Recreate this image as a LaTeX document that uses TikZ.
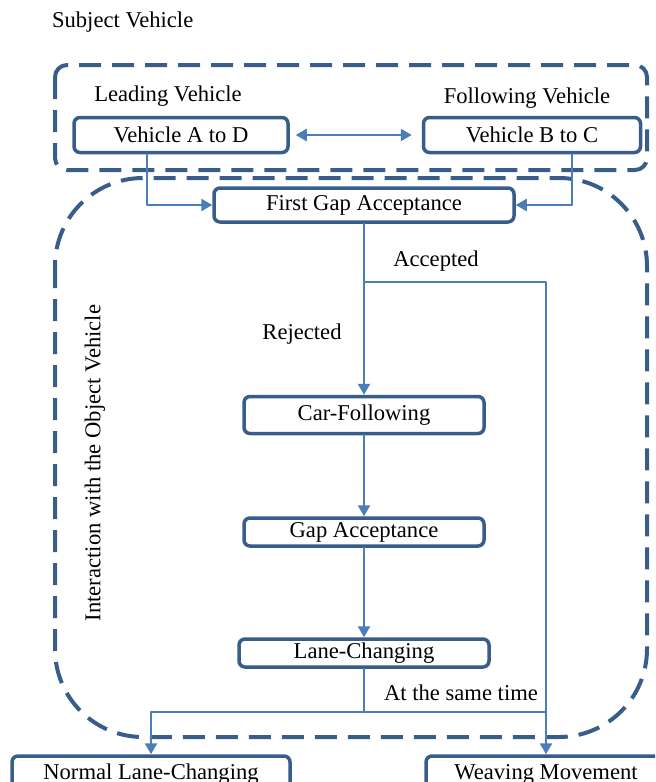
\documentclass[tikz,border=0pt]{standalone}
\usepackage{fontspec}
\setmainfont{Liberation Serif}
\usetikzlibrary{arrows.meta}
\definecolor{boxblue}{RGB}{56,93,138}
\definecolor{lineblue}{RGB}{74,126,187}
\begin{document}
\begin{tikzpicture}[x=0.5pt, y=-0.5pt, font=\fontsize{11.3}{13}\selectfont, line join=round, line cap=round, >={Triangle[length=5.5pt,width=6pt]},
	stage/.style={draw=boxblue, line width=1.75pt, rounded corners=3pt, fill=white, inner sep=0pt},
	flow/.style={draw=lineblue, line width=1.25pt},
	dashbox/.style={draw=boxblue, line width=2pt, line cap=butt, dash pattern=on 11pt off 5.5pt}]
	\def\xmax{655} \def\ymax{782} % Kích thước ảnh
	\useasboundingbox (0,0) rectangle (\xmax,\ymax);
	\clip (0,0) rectangle (\xmax,\ymax);
	\draw[dashbox, rounded corners=6pt] (55,65) rectangle (647,170);
	\draw[dashbox, rounded corners=44pt] (55,178) rectangle (647,737);
	\node[anchor=west] (subj) at (45,22) {Subject Vehicle};
	\node (lead) at (168,96) {Leading Vehicle};
	\node (foll) at (527,98) {Following Vehicle};
	\node[rotate=90] (inter) at (95,463) {Interaction with the Object Vehicle};
	\node[stage, minimum width=107pt, minimum height=17.5pt] (vad) at (181,135) {Vehicle A to D};
	\node[stage, minimum width=108.5pt, minimum height=17.5pt] (vbc) at (532,135) {Vehicle B to C};
	\node[stage, minimum width=150pt, minimum height=17pt] (fga) at (364,205) {First Gap Acceptance};
	\node[stage, minimum width=120pt, minimum height=18.5pt] (cf) at (364,415) {Car-Following};
	\node[stage, minimum width=120pt, minimum height=14pt] (ga) at (364,532) {Gap Acceptance};
	\node[stage, minimum width=125pt, minimum height=14pt] (lc) at (364,653) {Lane-Changing};
	\node[stage, minimum width=139pt, minimum height=18pt] (nlc) at (151,774) {Normal Lane-Changing};
	\node[stage, minimum width=120pt, minimum height=18pt] (wm) at (546,774) {Weaving Movement};
	\node (acc-lbl) at (436,261) {Accepted};
	\node (rej-lbl) at (302,334) {Rejected};
	\node (same-lbl) at (461,693) {At the same time};
	\coordinate (acc) at (364,282);
	\coordinate (split) at (364,712);
	\draw[flow,<->] ([xshift=3pt]vad.east) -- ([xshift=-5pt]vbc.west);
	\draw[flow,->] ([xshift=-17pt]vad.south) |- (fga.west);
	\draw[flow,->] ([xshift=20pt]vbc.south) |- (fga.east);
	\draw[flow,->] (fga) -- (cf);
	\draw[flow,->] (acc) -| (wm.north);
	\draw[flow,->] (cf) -- (ga);
	\draw[flow,->] (ga) -- (lc);
	\draw[flow] (lc.south) -- (split);
	\draw[flow,->] (split) -| (nlc.north);
	\draw[flow] (split) -- (split -| wm.north);
\end{tikzpicture}
\end{document}
